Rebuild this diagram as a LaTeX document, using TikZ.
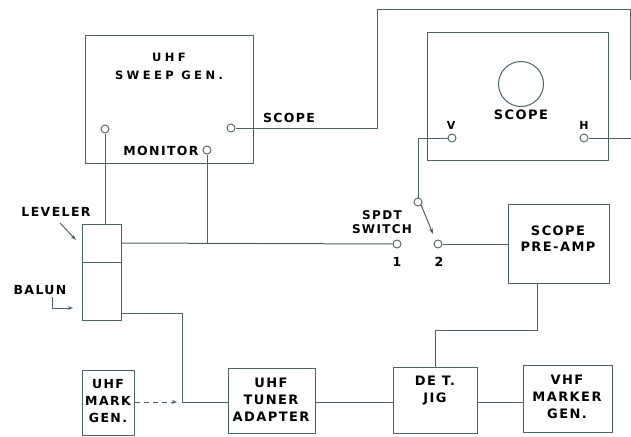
\documentclass[tikz,border=0pt]{standalone}
\usepackage{fontspec}
\newfontfamily\lbl[LetterSpace=11]{DejaVu Sans}
\newfontfamily\lblw[LetterSpace=30]{DejaVu Sans}
\usetikzlibrary{arrows.meta}
\definecolor{wire}{HTML}{4C645D}
\tikzset{
  wirestyle/.style={draw=wire, line width=1pt},
  box/.style={wirestyle, rectangle, inner sep=0pt},
  term/.style={circle, draw=wire!75!gray, line width=1pt, fill=white, minimum size=8pt, inner sep=0pt},
  txt/.style={font=\lbl\bfseries\fontsize{12.5}{15}\selectfont, inner sep=0pt, align=center, text=black},
  wtxt/.style={font=\lblw\bfseries\fontsize{11.5}{18}\selectfont, inner sep=0pt, align=center, text=black},
  btxt/.style={font=\lbl\bfseries\fontsize{13}{17}\selectfont, inner sep=0pt, align=center, text=black},
}
\begin{document}
\begin{tikzpicture}[x=1pt,y=-1pt]
\useasboundingbox (0,0) rectangle (631,436);
% boxes
\node[box, minimum width=168pt, minimum height=127pt] (sweep) at (169,99.5) {};
\node[box, minimum width=181pt, minimum height=127pt] (scope) at (517.5,96.5) {};
\node[box, minimum width=39pt, minimum height=38pt] (lev) at (101.5,243) {};
\node[box, minimum width=39pt, minimum height=58pt] (bal) at (101.5,291) {};
\node[box, minimum width=101pt, minimum height=79pt] (pre) at (558.5,243.5) {};
\node[box, minimum width=52pt, minimum height=65pt] (mark) at (108,402.5) {};
\node[box, minimum width=87pt, minimum height=65pt] (tuner) at (271.5,400.5) {};
\node[box, minimum width=84pt, minimum height=66pt] (det) at (435,400) {};
\node[box, minimum width=89pt, minimum height=67pt] (vhf) at (567.5,398.5) {};
\node[wirestyle, circle, minimum size=45pt, inner sep=0pt] (crt) at (521,84) {};
% terminals
\node[term] (tL) at (105,129) {};
\node[term] (tS) at (231,128) {};
\node[term] (tM) at (207,150) {};
\node[term] (tV) at (452,138) {};
\node[term] (tH) at (584,138) {};
\node[term] (tP) at (418,202) {};
\node[term] (t1) at (397,244) {};
\node[term] (t2) at (438,244) {};
% coordinates
\coordinate (sA) at (377,128);
\coordinate (sB) at (377,10);
\coordinate (sC) at (630,10);
\coordinate (sD) at (630,80);
\coordinate (hE) at (631,138);
\coordinate (blade) at (433,234);
\coordinate (bA) at (182,313);
\coordinate (bB) at (182,402);
\coordinate (mEnd) at (177,402);
\coordinate (pA) at (537,330);
\coordinate (levA) at (60,223);
\coordinate (levB) at (76,240);
\coordinate (balA) at (52,297);
\coordinate (balB) at (52,308);
\coordinate (balC) at (73,308);
% texts
\node[wtxt] (t_sweep) at (169,66) {UHF\\SWEEP GEN.};
\node[txt] (t_scope1) at (289,118) {SCOPE};
\node[txt] (t_mon) at (161,151) {MONITOR};
\node[btxt] (t_scope2) at (521,115) {SCOPE};
\node[txt, font=\lbl\bfseries\fontsize{11}{14}\selectfont] (t_v) at (451,125) {V};
\node[txt, font=\lbl\bfseries\fontsize{11}{14}\selectfont] (t_h) at (584,125) {H};
\node[txt, font=\lbl\bfseries\fontsize{12}{14}\selectfont] (t_spdt) at (382,222) {SPDT\\SWITCH};
\node[txt] (t_1) at (397,262) {1};
\node[txt] (t_2) at (439,262) {2};
\node[txt] (t_lev) at (56,212) {LEVELER};
\node[txt] (t_bal) at (40,290) {BALUN};
\node[btxt, font=\lbl\bfseries\fontsize{13}{16}\selectfont] at (558,239) {SCOPE\\PRE-AMP};
\node[btxt, font=\lbl\bfseries\fontsize{12.5}{17}\selectfont] at (108,401) {UHF\\MARK\\GEN.};
\node[btxt] at (271,400) {UHF\\TUNER\\ADAPTER};
\node[btxt] at (435,391) {DE T.\\JIG};
\node[btxt] at (567,397) {VHF\\MARKER\\GEN.};
% connectors
\draw[wirestyle] (tL.south) -- (tL.south |- lev.north);
\draw[wirestyle] (lev.east) -- (t1.west);
\draw[wirestyle] (tM.south) -- (tM.south |- lev.east);
\draw[wirestyle] (tS.east) -- (sA) -- (sB) -- (sC) -- (sD);
\draw[wirestyle] (tH.east) -- (hE);
\draw[wirestyle] (tV.west) -| (tP.north);
\draw[wirestyle, -{Stealth[length=6pt,width=4pt]}] (tP.south east) -- (blade);
\draw[wirestyle] (t2.east) -- (t2.east -| pre.west);
\draw[wirestyle] (pre.south -| pA) -- (pA) -| (det.north);
\draw[wirestyle] (bal.east |- bA) -- (bA) -- (bB) -- (bB -| tuner.west);
\draw[wirestyle, dashed, dash pattern=on 5pt off 4pt, -{Stealth[length=5pt,width=4pt]}] (mark.east |- mEnd) -- (mEnd);
\draw[wirestyle] (tuner.east |- bB) -- (bB -| det.west);
\draw[wirestyle] (det.east |- bB) -- (bB -| vhf.west);
\draw[wirestyle, -{Stealth[length=6pt,width=4pt]}] (levA) -- (levB);
\draw[wirestyle, -{Stealth[length=5pt,width=3.5pt]}] (balA) -- (balB) -- (balC);
\end{tikzpicture}
\end{document}
